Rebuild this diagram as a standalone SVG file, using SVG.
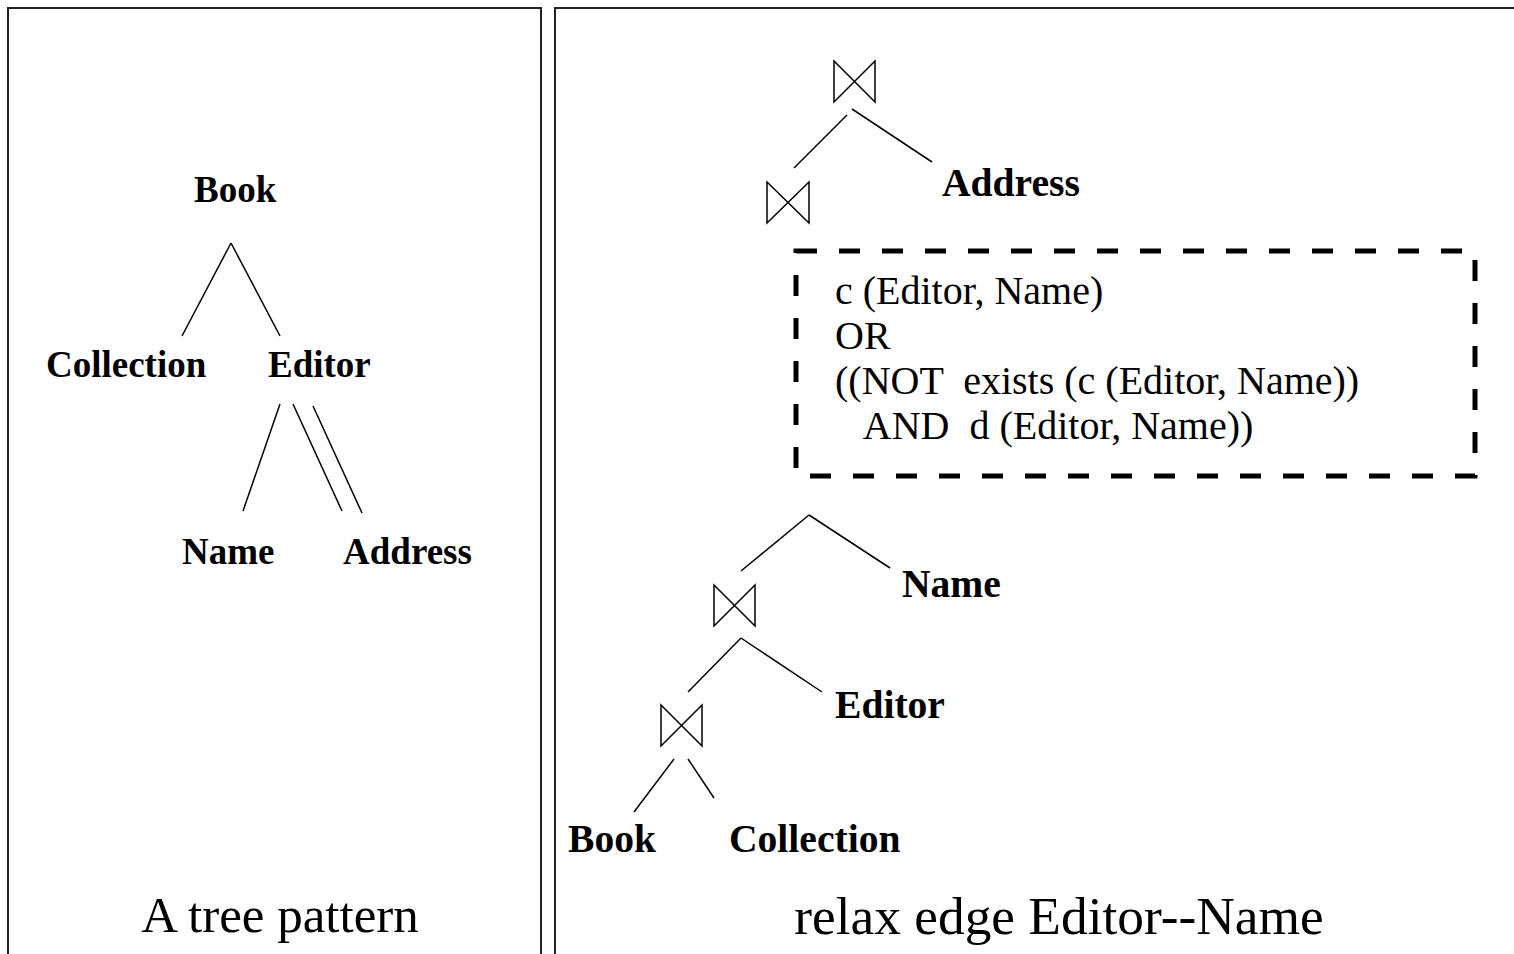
<svg xmlns="http://www.w3.org/2000/svg" width="1514" height="954" viewBox="0 0 1514 954">
  <style>
    .frame { fill: none; stroke: #222; stroke-width: 2; }
    .edge { fill: none; stroke: #000; stroke-width: 1.5; }
    .join { fill: none; stroke: #000; stroke-width: 1.5; stroke-linejoin: miter; }
    .lbl { font-family: "Liberation Serif", "Times New Roman", serif; font-weight: bold; font-size: 37px; fill: #000; }
    .lbl2 { font-family: "Liberation Serif", "Times New Roman", serif; font-weight: bold; font-size: 39.6px; fill: #000; }
    .cond { font-family: "Liberation Serif", "Times New Roman", serif; font-size: 40px; fill: #000; white-space: pre; }
    .cap { font-family: "Liberation Serif", "Times New Roman", serif; font-size: 51px; fill: #000; text-anchor: middle; }
    .cap2 { font-size: 53.4px; }
    .dash { fill: none; stroke: #000; stroke-width: 5; stroke-dasharray: 21 22; }
  </style>

  <!-- panel frames -->
  <g id="frames">
    <path class="frame" d="M8 954 V8 H541 V954"/>
    <path class="frame" d="M555 954 V8 H1514"/>
  </g>

  <!-- left panel: tree pattern -->
  <g id="tree-edges">
    <line class="edge" x1="231" y1="243" x2="182" y2="336"/>
    <line class="edge" x1="231" y1="243" x2="280" y2="336"/>
    <line class="edge" x1="280" y1="404" x2="243" y2="511"/>
    <line class="edge" x1="293" y1="404" x2="342" y2="511"/>
    <line class="edge" x1="313" y1="406" x2="362" y2="513"/>
  </g>
  <g id="t-book"><text class="lbl" x="194" y="202">Book</text></g>
  <g id="t-collection"><text class="lbl" x="46" y="377">Collection</text></g>
  <g id="t-editor"><text class="lbl" x="268" y="377">Editor</text></g>
  <g id="t-name"><text class="lbl" x="182" y="564">Name</text></g>
  <g id="t-address"><text class="lbl" x="343" y="564">Address</text></g>
  <g id="caption-left"><text class="cap" x="280" y="932">A tree pattern</text></g>

  <!-- right panel: join plan -->
  <g id="plan-edges">
    <line class="edge" x1="847" y1="115" x2="794" y2="168"/>
    <line class="edge" x1="852" y1="109" x2="932" y2="162"/>
    <line class="edge" x1="809" y1="515" x2="741" y2="571"/>
    <line class="edge" x1="809" y1="515" x2="890" y2="568"/>
    <line class="edge" x1="741" y1="638" x2="688" y2="692"/>
    <line class="edge" x1="741" y1="638" x2="822" y2="692"/>
    <line class="edge" x1="674" y1="759" x2="634" y2="812"/>
    <line class="edge" x1="688" y1="759" x2="714" y2="798"/>
  </g>
  <g id="join-1"><path class="join" d="M834 61 V102 L875 61 V102 Z"/></g>
  <g id="join-2"><path class="join" d="M767 182 V223 L809 182 V223 Z"/></g>
  <g id="join-3"><path class="join" d="M714 585 V626 L755 585 V626 Z"/></g>
  <g id="join-4"><path class="join" d="M661 705 V746 L702 705 V746 Z"/></g>
  <g id="r-address"><text class="lbl2" x="942" y="196">Address</text></g>
  <g id="r-name"><text class="lbl2" x="902" y="597">Name</text></g>
  <g id="r-editor"><text class="lbl2" x="835" y="718">Editor</text></g>
  <g id="r-book"><text class="lbl2" x="568" y="852">Book</text></g>
  <g id="r-collection"><text class="lbl2" x="729" y="852">Collection</text></g>

  <!-- relaxation condition -->
  <g id="condition">
    <rect class="dash" x="796" y="251" width="679" height="225"/>
    <text class="cond" x="835" y="304">c (Editor, Name)</text>
    <text class="cond" x="835" y="349">OR</text>
    <text class="cond" x="835" y="394">((NOT  exists (c (Editor, Name))</text>
    <text class="cond" x="835" y="439">   AND  d (Editor, Name))</text>
  </g>

  <g id="caption-right"><text class="cap cap2" x="1059" y="934">relax edge Editor--Name</text></g>
</svg>
